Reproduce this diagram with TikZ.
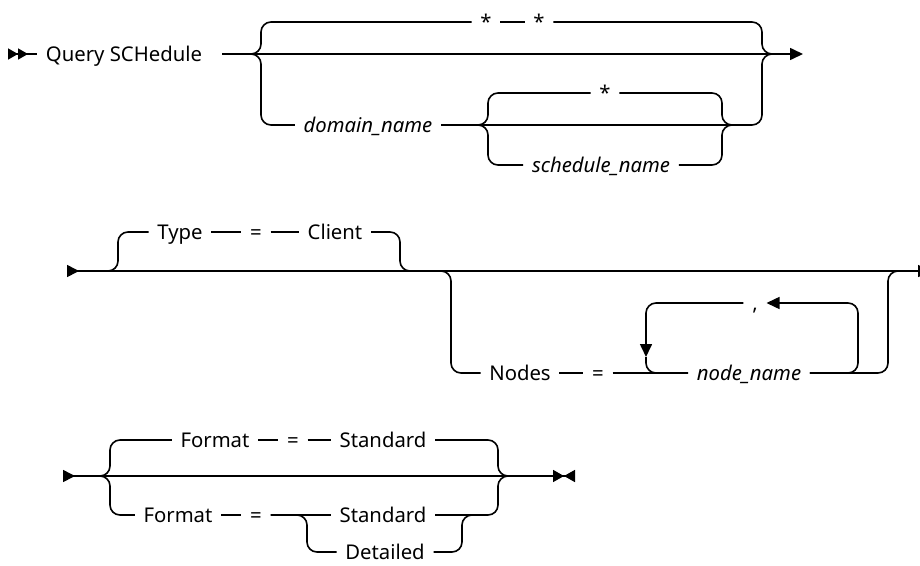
\documentclass[tikz,border=0pt]{standalone}
\usepackage{fontspec}
\setmainfont{Noto Sans}
\usetikzlibrary{arrows.meta}
\begin{document}
\begin{tikzpicture}[x=1pt, y=-1pt, line width=1.6pt,
    rail/.style={rounded corners=10pt},
    kw/.style={inner xsep=8pt, inner ysep=0pt, text height=14.5pt, text depth=0pt, font=\fontsize{20.3}{24}\selectfont},
    var/.style={kw, font=\fontsize{20.3}{24}\selectfont\itshape},
    tip/.style={-{Triangle[length=13pt,width=12pt]}},
    bothtip/.style={{Triangle[reversed,length=12pt,width=12pt]}-{Triangle[length=13pt,width=12pt]}}]
\useasboundingbox (0,0) rectangle (920,565);
\coordinate (s1) at (8,54);
\node[kw] (query) at (124,54) {Query SCHedule};
\coordinate (q1) at (222,54);
\coordinate (r1l) at (261,54);
\coordinate (r1r) at (762,54);
\coordinate (e1) at (803,54);
\node[kw] (st1) at (486,22) {*};
\node[kw] (st2) at (539,22) {*};
\node[var] (domain) at (368,125) {domain\_name};
\coordinate (r2l) at (488,125);
\coordinate (r2r) at (722,125);
\node[kw] (st3) at (605,93) {*};
\node[var] (sched) at (601,165) {schedule\_name};
\draw[{Triangle[reversed,length=10pt,width=11pt]Triangle[reversed,length=10pt,width=11pt]}-] (s1) -- (query.west);
\draw[rail, tip] (q1) -- (e1);
\draw[rail] (q1) -| (r1l |- st1) -- (st1.west);
\draw (st1.east) -- (st2.west);
\draw[rail] (st2.east) -| (r1r) -- +(12,0);
\draw[rail] (q1) -| (r1l |- domain) -- (domain.west);
\draw[rail] (domain.east) -| (r1r) -- +(12,0);
\draw[rail] (domain.east) -| (r2l |- st3) -- (st3.west);
\draw[rail] (domain.east) -| (r2l |- sched) -- (sched.west);
\draw[rail] (st3.east) -| (r2r) -- +(12,0);
\draw[rail] (sched.east) -| (r2r) -- +(12,0);
\coordinate (s2) at (67,271);
\coordinate (e2) at (931,271);
\coordinate (r3l) at (118,271);
\coordinate (r3r) at (400,271);
\coordinate (r4l) at (451,271);
\coordinate (r4r) at (888,271);
\node[kw] (type) at (180,232) {Type};
\node[kw] (eq1) at (256,232) {=};
\node[kw] (client) at (335,232) {Client};
\node[kw] (nodes) at (520,373) {Nodes};
\node[kw] (eq2) at (598,373) {=};
\node[var] (nodename) at (749,373) {node\_name};
\node[kw] (comma) at (755,303) {,};
\coordinate (r5l) at (646,357);
\coordinate (r5r) at (858,303);
\draw[bothtip] (s2) -- (e2);
\draw[rail] (s2) -| (r3l |- type) -- (type.west);
\draw (type.east) -- (eq1.west) (eq1.east) -- (client.west);
\draw[rail] (client.east) -| (r3r) -- +(12,0);
\draw[rail] (r3r) -| (r4l |- nodes) -- (nodes.west);
\draw (nodes.east) -- (eq2.west) (eq2.east) -- (nodename.west);
\draw[rail] (nodename.east) -| (r4r) -- +(12,0);
\draw[rail, tip] (nodename.east) -| (r5r) -- (comma.east);
\draw[rail, tip] (comma.west) -| (r5l);
\draw[rail] (r5l) |- (nodename.west);
\coordinate (s3) at (63,476);
\coordinate (e3) at (575,476);
\coordinate (r6l) at (110,476);
\coordinate (r6r) at (498,476);
\coordinate (r7l) at (307,515);
\coordinate (r7r) at (462,515);
\node[kw] (fmt1) at (215,440) {Format};
\node[kw] (eq3) at (293,440) {=};
\node[kw] (std1) at (383,440) {Standard};
\node[kw] (fmt2) at (178,515) {Format};
\node[kw] (eq4) at (256,515) {=};
\node[kw] (std2) at (383,515) {Standard};
\node[kw] (det) at (385,552) {Detailed};
\draw[{Triangle[reversed,length=12pt,width=12pt]}-{Triangle[length=11pt,width=12pt]Triangle[reversed,length=11pt,width=12pt]}] (s3) -- (e3);
\draw[rail] (s3) -| (r6l |- fmt1) -- (fmt1.west);
\draw (fmt1.east) -- (eq3.west) (eq3.east) -- (std1.west);
\draw[rail] (std1.east) -| (r6r) -- +(12,0);
\draw[rail] (s3) -| (r6l |- fmt2) -- (fmt2.west);
\draw (fmt2.east) -- (eq4.west) (eq4.east) -- (std2.west);
\draw[rail] (std2.east) -| (r6r) -- +(12,0);
\draw[rail] (eq4.east) -| (r7l |- det) -- (det.west);
\draw[rail] (det.east) -| (r7r) -- +(12,0);
\end{tikzpicture}
\end{document}
